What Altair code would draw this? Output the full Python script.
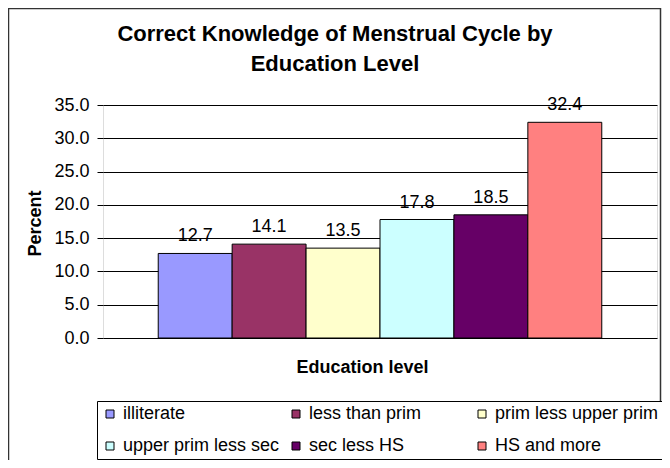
import altair as alt
import pandas as pd

categories = ["illiterate", "less than prim", "prim less upper prim",
              "upper prim less sec", "sec less HS", "HS and more"]
values = [12.7, 14.1, 13.5, 17.8, 18.5, 32.4]
colors = ["#9999FF", "#993366", "#FFFFCC", "#CCFFFF", "#660066", "#FF8080"]
y_ticks = [0, 5, 10, 15, 20, 25, 30, 35]

FONT = "Liberation Sans"

df = pd.DataFrame({"level": categories, "pct": values})

x_enc = alt.X(
    "level:N", sort=categories,
    scale=alt.Scale(paddingInner=0, paddingOuter=0.747),
    axis=alt.Axis(labels=False, ticks=False, domain=False, grid=False,
                  title="Education level", titleFont=FONT, titleFontSize=18,
                  titleFontWeight="bold", titleColor="black",
                  titleX=259, titleY=34, titleAlign="center",
                  titleBaseline="alphabetic"),
)
y_enc = alt.Y(
    "pct:Q",
    scale=alt.Scale(domain=[0, 35], nice=False),
    axis=alt.Axis(values=y_ticks, format=".1f", grid=True, gridColor="black",
                  gridWidth=1, domain=False, tickColor="black", tickSize=6,
                  labelPadding=8, labelFont=FONT, labelFontSize=18,
                  labelColor="black", labelOverlap=False, labelFlush=False,
                  labelBound=False,
                  title="Percent", titleFont=FONT,
                  titleFontSize=18, titleFontWeight="bold", titleColor="black",
                  titleX=-68, titleY=118, titleAlign="center",
                  titleBaseline="middle", titleAngle=270),
)

bars = alt.Chart(df).mark_bar(stroke="black", strokeWidth=1).encode(
    x=x_enc,
    y=y_enc,
    color=alt.Color(
        "level:N", sort=categories,
        scale=alt.Scale(domain=categories, range=colors),
        legend=alt.Legend(
            title=None, orient="none", legendX=-6, legendY=296,
            direction="horizontal", columns=3, gridAlign="all",
            columnPadding=0, rowPadding=14, padding=4,
            strokeColor="black", fillColor="white",
            symbolType="square", symbolSize=64, symbolStrokeColor="black",
            symbolStrokeWidth=1, symbolOpacity=1,
            labelFont=FONT, labelFontSize=18, labelColor="black",
            labelOffset=4, labelLimit=300,
        ),
    ),
)

labels = alt.Chart(df).mark_text(
    font=FONT, fontSize=18, color="black", baseline="alphabetic",
    align="center", dy=-12,
).encode(
    x=x_enc,
    y=y_enc,
    text=alt.Text("pct:Q", format=".1f"),
)

frame = alt.Chart(pd.DataFrame({"f": [0]})).mark_rect(
    fillOpacity=0, stroke="#333333", strokeWidth=1.5, clip=False,
).encode(
    x=alt.value(-94.5), x2=alt.value(557.5),
    y=alt.value(-96.5), y2=alt.value(400),
)

chart = alt.layer(bars, labels, frame).properties(
    width=554, height=233,
    title=alt.TitleParams(
        text=["Correct Knowledge of Menstrual Cycle by", "Education Level"],
        font=FONT, fontSize=22, fontWeight="bold", color="black",
        anchor="middle", frame="group", lineHeight=30, dx=-45,
        offset=0, baseline="alphabetic", dy=85,
    ),
    autosize=alt.AutoSizeParams(type="none"),
    padding={"left": 95, "top": 97, "right": 5, "bottom": 122},
).configure_view(
    fill="#C0C0C0", stroke="#808080", strokeWidth=1,
).configure(background="white")

chart.save("out.html", embed_options={"renderer": "svg", "actions": False})
